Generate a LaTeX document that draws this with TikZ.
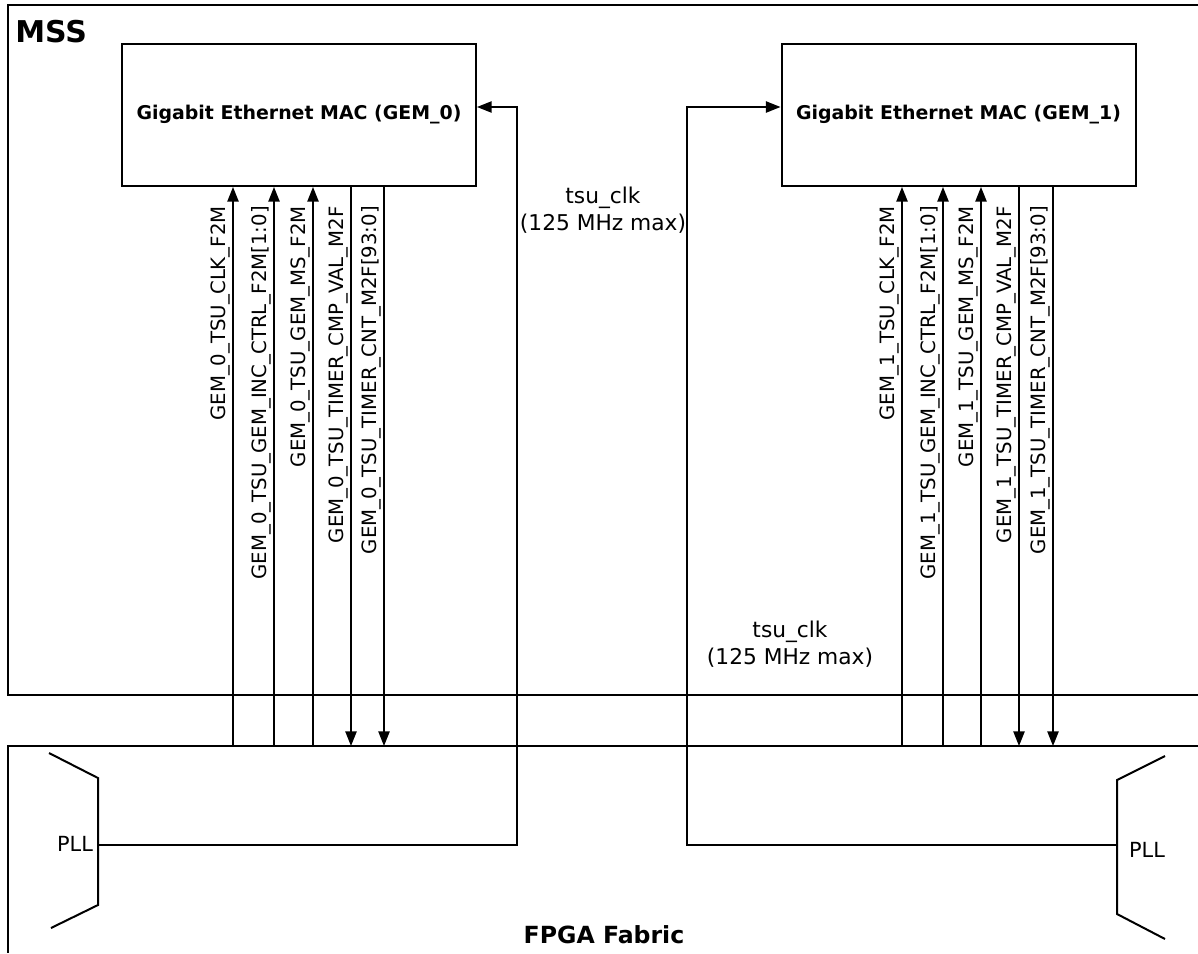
\documentclass[tikz,border=0pt]{standalone}
\usepackage{fontspec}
\setmainfont{DejaVu Sans}
\usetikzlibrary{arrows.meta,positioning}

\tikzset{
  edge/.style={line width=1.5pt},
  wire/.style={line width=1.1pt},
  tip/.style={-{Triangle[length=11pt,width=8.5pt]}},
  gembox/.style={draw, line width=1.5pt, minimum width=265.5pt, minimum height=106.5pt,
    inner sep=0pt, font=\fontsize{14.2}{17}\selectfont\bfseries},
  siglabel/.style={rotate=90, anchor=base east, inner sep=0pt, font=\fontsize{14.8}{17}\selectfont},
  clklabel/.style={align=center, inner sep=0pt, font=\fontsize{16.3}{20}\selectfont},
  plllabel/.style={inner sep=0pt, font=\fontsize{15.6}{17}\selectfont},
}

\begin{document}
\begin{tikzpicture}[x=0.75pt,y=0.75pt]
                    \useasboundingbox (0,0) rectangle (1198,-953);
                    % MSS and fabric outlines
                    \draw [edge] (1198,-5) -- (8,-5) -- (8,-695) -- (1198,-695);
                    \draw [edge] (1198,-746) -- (8,-746) -- (8,-953);
                    \node [inner sep=0pt, anchor=base west, font=\fontsize{22.5}{26}\selectfont\bfseries] (mss) at (15,-42) {MSS};
                    \node [inner sep=0pt, anchor=base, font=\fontsize{17.7}{20}\selectfont\bfseries] (fabric) at (604,-943) {FPGA Fabric};
                    % MAC blocks
                    \node [gembox] (gem0) at (299,-115) {Gigabit Ethernet MAC (GEM\_0)};
                    \node [gembox] (gem1) at (958.5,-115) {Gigabit Ethernet MAC (GEM\_1)};
                    % GEM_0 timestamp signals
                    \coordinate (s0a) at (233,-746);
                    \coordinate (s0b) at (274,-746);
                    \coordinate (s0c) at (313,-746);
                    \coordinate (s0d) at (351,-746);
                    \coordinate (s0e) at (384,-746);
                    \draw [wire, tip] (s0a) -- (s0a |- gem0.south);
                    \draw [wire, tip] (s0b) -- (s0b |- gem0.south);
                    \draw [wire, tip] (s0c) -- (s0c |- gem0.south);
                    \draw [wire, tip] (s0d |- gem0.south) -- (s0d);
                    \draw [wire, tip] (s0e |- gem0.south) -- (s0e);
                    \node [siglabel] (l0a) at (225,-206) {GEM\_0\_TSU\_CLK\_F2M};
                    \node [siglabel] (l0b) at (266,-206) {GEM\_0\_TSU\_GEM\_INC\_CTRL\_F2M[1:0]};
                    \node [siglabel] (l0c) at (305,-206) {GEM\_0\_TSU\_GEM\_MS\_F2M};
                    \node [siglabel] (l0d) at (343,-206) {GEM\_0\_TSU\_TIMER\_CMP\_VAL\_M2F};
                    \node [siglabel] (l0e) at (376,-206) {GEM\_0\_TSU\_TIMER\_CNT\_M2F[93:0]};
                    % GEM_1 timestamp signals
                    \coordinate (s1a) at (902,-746);
                    \coordinate (s1b) at (943,-746);
                    \coordinate (s1c) at (981,-746);
                    \coordinate (s1d) at (1019,-746);
                    \coordinate (s1e) at (1053,-746);
                    \draw [wire, tip] (s1a) -- (s1a |- gem1.south);
                    \draw [wire, tip] (s1b) -- (s1b |- gem1.south);
                    \draw [wire, tip] (s1c) -- (s1c |- gem1.south);
                    \draw [wire, tip] (s1d |- gem1.south) -- (s1d);
                    \draw [wire, tip] (s1e |- gem1.south) -- (s1e);
                    \node [siglabel] (l1a) at (894,-206) {GEM\_1\_TSU\_CLK\_F2M};
                    \node [siglabel] (l1b) at (935,-206) {GEM\_1\_TSU\_GEM\_INC\_CTRL\_F2M[1:0]};
                    \node [siglabel] (l1c) at (973,-206) {GEM\_1\_TSU\_GEM\_MS\_F2M};
                    \node [siglabel] (l1d) at (1011,-206) {GEM\_1\_TSU\_TIMER\_CMP\_VAL\_M2F};
                    \node [siglabel] (l1e) at (1045,-206) {GEM\_1\_TSU\_TIMER\_CNT\_M2F[93:0]};
                    % PLLs in the fabric
                    \draw [edge] (49,-753) -- (98,-778) -- (98,-905) -- (51,-928);
                    \draw [edge] (1165,-756) -- (1117,-780) -- (1117,-914) -- (1165,-939);
                    \node [plllabel] (pll0) at (75,-844) {PLL};
                    \node [plllabel] (pll1) at (1147,-850) {PLL};
                    \coordinate (pll0out) at (98,-845);
                    \coordinate (pll1out) at (1117,-845);
                    % tsu_clk routes
                    \coordinate (clk0) at (517,-107);
                    \coordinate (clk1) at (687,-107);
                    \draw [wire, tip] (pll0out) -| (clk0) -- (clk0 -| gem0.east);
                    \draw [wire, tip] (pll1out) -| (clk1) -- (clk1 -| gem1.west);
                    \node [clklabel] (tsu0) at (603,-210) {tsu\_clk\\(125 MHz max)};
                    \node [clklabel] (tsu1) at (790,-644) {tsu\_clk\\(125 MHz max)};
\end{tikzpicture}
\end{document}
